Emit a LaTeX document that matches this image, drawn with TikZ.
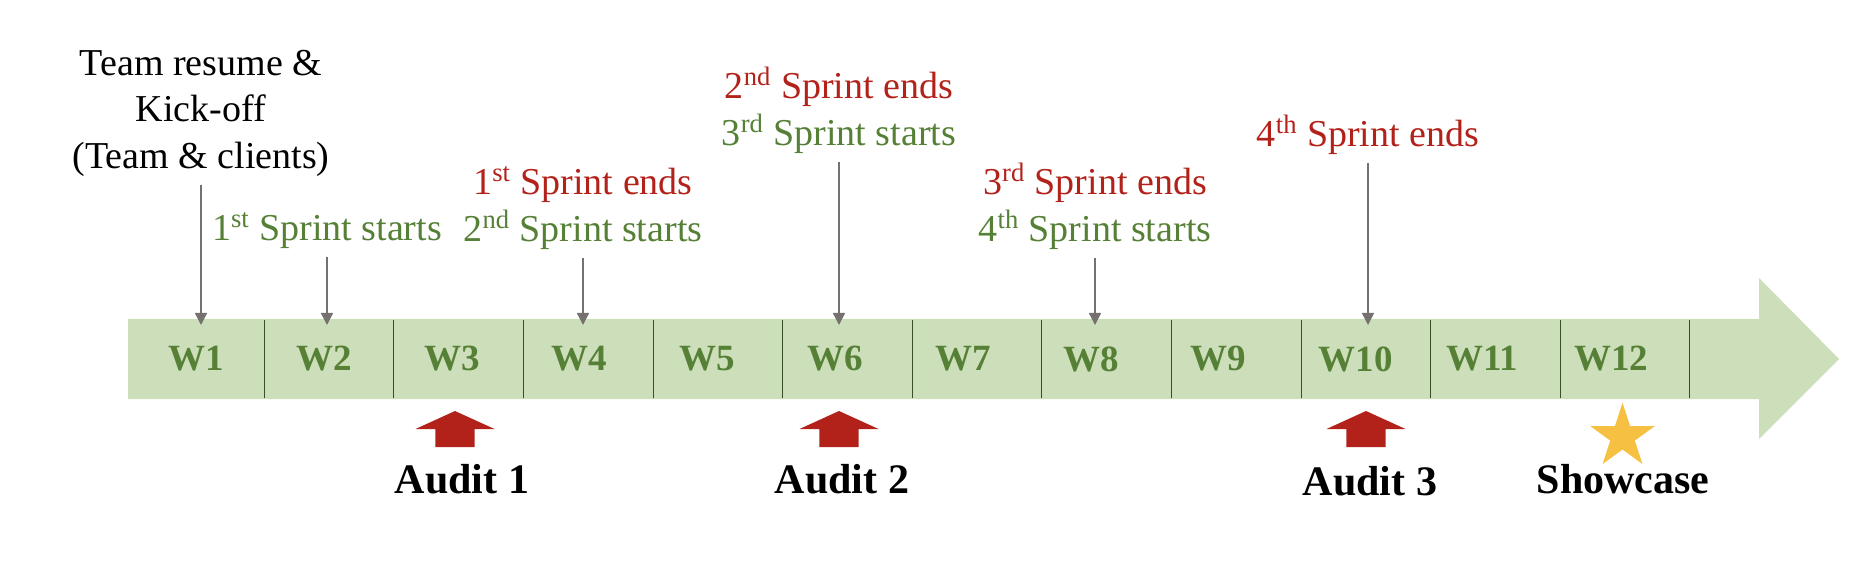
\documentclass[tikz,border=0pt]{standalone}
\usepackage{fontspec}
\setmainfont{Liberation Serif}
\usepackage{xcolor}
\usepackage{tikz}
\usetikzlibrary{arrows.meta,shapes.geometric}
\definecolor{tlbar}{RGB}{204,223,186}
\definecolor{tlgreen}{RGB}{86,128,54}
\definecolor{tlred}{RGB}{178,34,26}
\definecolor{tlgray}{RGB}{118,113,113}
\definecolor{tldiv}{RGB}{55,80,35}
\definecolor{tlgold}{RGB}{246,192,66}
\tikzset{
  tltext/.style={
    align=center,
    anchor=south,
    inner xsep=0pt,
    inner ysep=4.25pt,
    font=\fontsize{19}{23.25}\selectfont
  },
  tlweek/.style={anchor=west, inner sep=0pt, text=tlgreen, font=\fontsize{18.5}{22}\selectfont\bfseries},
  tlmile/.style={anchor=base, inner sep=0pt, font=\fontsize{21}{25}\selectfont\bfseries},
  tlpointer/.style={-{Triangle[length=6pt,width=6pt]}, line width=0.75pt, draw=tlgray, shorten >=-3pt},
  tldivider/.style={line width=0.5pt, draw=tldiv},
  tlstar/.style={star, star points=5, star point ratio=2.618, minimum size=33.9pt, inner sep=0pt, fill=tlgold},
  auditmark/.pic={
    \fill[tlred] (-19.7,0) -- (-19.7,18) -- (-39.5,18) -- (0,36) -- (39.5,18) -- (19.7,18) -- (19.7,0) -- cycle;
  }
}

\begin{document}
\begin{tikzpicture}[x=0.5pt, y=0.5pt]
\useasboundingbox (0,0) rectangle (1872,568);
% timeline bar
\fill[tlbar] (128,169) -- (1759,169) -- (1759,129) -- (1839,209) -- (1759,290) -- (1759,249) -- (128,249) -- cycle;
\coordinate (bartop) at (128,249);
\foreach \i in {1,...,12} {
  \node[tlweek] (w\i) at ({168+127.8*(\i-1)},209) {W\i};
  \draw[tldivider] ({264.3+129.6*(\i-1)},170) -- ++(0,78);
}
% events above
\node[tltext] (kick) at (201,383) {Team resume \&\\Kick-off\\(Team \& clients)};
\node[tltext, text=tlgreen] (s1) at (327,310.5) {1\textsuperscript{st} Sprint starts};
\node[tltext] (e1) at (583,310) {\textcolor{tlred}{1\textsuperscript{st} Sprint ends}\\\textcolor{tlgreen}{2\textsuperscript{nd} Sprint starts}};
\node[tltext] (e2) at (839,406) {\textcolor{tlred}{2\textsuperscript{nd} Sprint ends}\\\textcolor{tlgreen}{3\textsuperscript{rd} Sprint starts}};
\node[tltext] (e3) at (1095,310) {\textcolor{tlred}{3\textsuperscript{rd} Sprint ends}\\\textcolor{tlgreen}{4\textsuperscript{th} Sprint starts}};
\node[tltext, text=tlred] (e4) at (1368,405) {4\textsuperscript{th} Sprint ends};
\draw[tlpointer] (kick) -- (kick.south |- bartop);
\draw[tlpointer] (s1) -- (s1.south |- bartop);
\draw[tlpointer] (e1) -- (e1.south |- bartop);
\draw[tlpointer] (e2) -- (e2.south |- bartop);
\draw[tlpointer] (e3) -- (e3.south |- bartop);
\draw[tlpointer] (e4) -- (e4.south |- bartop);
% milestones below
\pic at (455,121) {auditmark};
\pic at (839,121) {auditmark};
\pic at (1366,121) {auditmark};
\node[tlstar] (star) at (1622.5,131.4) {};
\node[tlmile] (audit1) at (462,75) {Audit 1};
\node[tlmile] (audit2) at (842,75) {Audit 2};
\node[tlmile] (audit3) at (1370,73) {Audit 3};
\node[tlmile] (show) at (1623,75) {Showcase};
\end{tikzpicture}
\end{document}
